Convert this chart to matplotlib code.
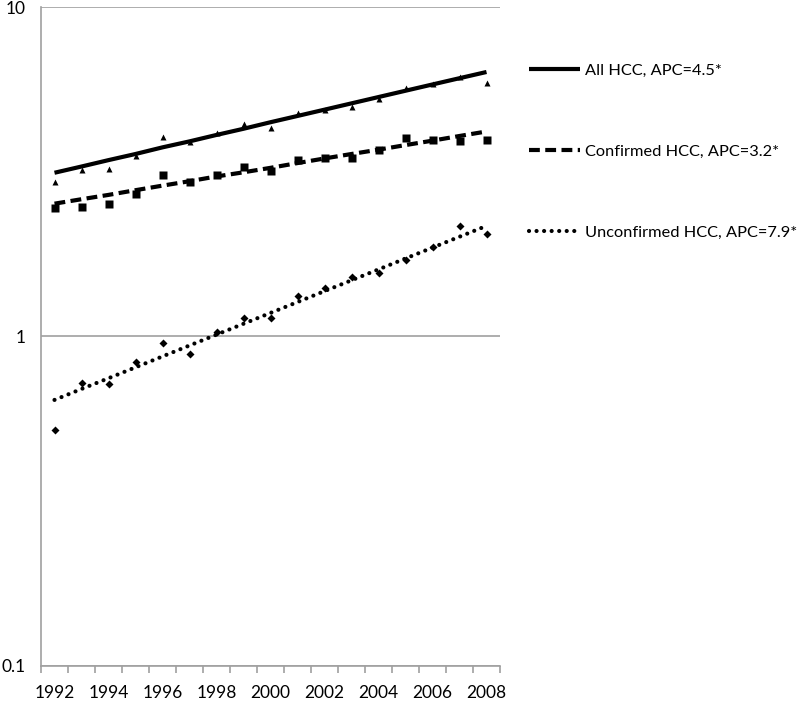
import matplotlib
matplotlib.use("Agg")
import matplotlib.pyplot as plt
from matplotlib.lines import Line2D

plt.rcParams["font.family"] = ["Lato", "DejaVu Sans"]

years = list(range(1992, 2009))
year_labels = [str(y) if y % 2 == 0 else "" for y in years]

# observed rates
all_obs = [2.95, 3.21, 3.23, 3.52, 4.02, 3.88, 4.15, 4.40, 4.28, 4.77, 4.87, 4.97, 5.24, 5.66, 5.82, 6.11, 5.90]
conf_obs = [2.45, 2.48, 2.52, 2.70, 3.10, 2.95, 3.10, 3.28, 3.17, 3.44, 3.47, 3.49, 3.67, 3.99, 3.96, 3.91, 3.94]
unconf_obs = [0.52, 0.725, 0.72, 0.834, 0.954, 0.884, 1.035, 1.14, 1.137, 1.33, 1.40, 1.52, 1.56, 1.71, 1.87, 2.17, 2.05]

# joinpoint fitted rates
all_fit = [3.14, 3.28, 3.43, 3.58, 3.75, 3.91, 4.09, 4.27, 4.47, 4.67, 4.88, 5.10, 5.33, 5.57, 5.82, 6.08, 6.35]
conf_fit = [2.53, 2.61, 2.69, 2.78, 2.87, 2.96, 3.06, 3.15, 3.25, 3.36, 3.47, 3.58, 3.69, 3.81, 3.93, 4.06, 4.19]
unconf_fit = [0.642, 0.693, 0.747, 0.806, 0.870, 0.939, 1.013, 1.093, 1.179, 1.272, 1.373, 1.481, 1.598, 1.725, 1.861, 2.008, 2.166]

labels = ["All HCC, APC=4.5*", "Confirmed HCC, APC=3.2*", "Unconfirmed HCC, APC=7.9*"]

fig = plt.figure(figsize=(8, 7.03), dpi=100)
ax = fig.add_axes([41 / 800, 1 - 666 / 703, 459 / 800, 659 / 703])

x = list(range(len(years)))
grey = "#a0a0a0"
dash_style = dict(dashes=(2.6, 1.3), dash_capstyle="butt")
dot_style = dict(dashes=(0.01, 1.8), dash_capstyle="round")

ax.plot(x, all_obs, "^", color="black", ms=5, mec="none")
ax.plot(x, conf_obs, "s", color="black", ms=5.5, mec="none")
ax.plot(x, unconf_obs, "D", color="black", ms=4.5, mec="none")

ax.plot(x, all_fit, "-", color="black", lw=3, solid_capstyle="butt")
ax.plot(x, conf_fit, color="black", lw=3, **dash_style)
ax.plot(x, unconf_fit, color="black", lw=3, **dot_style)

ax.set_yscale("log")
ax.set_ylim(0.1, 10)
ax.set_xlim(-0.5, len(years) - 0.5)
ax.set_yticks([0.1, 1, 10])
ax.set_yticklabels(["0.1", "1", "10"])
ax.minorticks_off()
ax.tick_params(axis="y", length=0, labelsize=12.5, pad=11)
ax.grid(axis="y", color=grey, lw=1.2)

ax.set_xticks([i - 0.5 for i in range(len(years) + 1)])
ax.set_xticklabels([""] * (len(years) + 1))
ax.set_xticks(x, minor=True)
ax.set_xticklabels(year_labels, minor=True)
ax.tick_params(axis="x", which="major", length=5, color=grey, width=1.2)
ax.tick_params(axis="x", which="minor", length=0, labelsize=12.5, pad=14)

for s in ["top", "right"]:
    ax.spines[s].set_visible(False)
for s in ["left", "bottom"]:
    ax.spines[s].set_color(grey)
    ax.spines[s].set_linewidth(1.2)

handles = [
    Line2D([], [], color="black", lw=3, solid_capstyle="butt"),
    Line2D([], [], color="black", lw=3, **dash_style),
    Line2D([], [], color="black", lw=3, **dot_style),
]
fig.legend(handles, labels, loc="upper left", bbox_to_anchor=(514 / 800, 1 - 49 / 703),
           frameon=False, fontsize=11.8, handlelength=3.1, handletextpad=0.35,
           labelspacing=4.05)

fig.savefig("out.png", dpi=100)
